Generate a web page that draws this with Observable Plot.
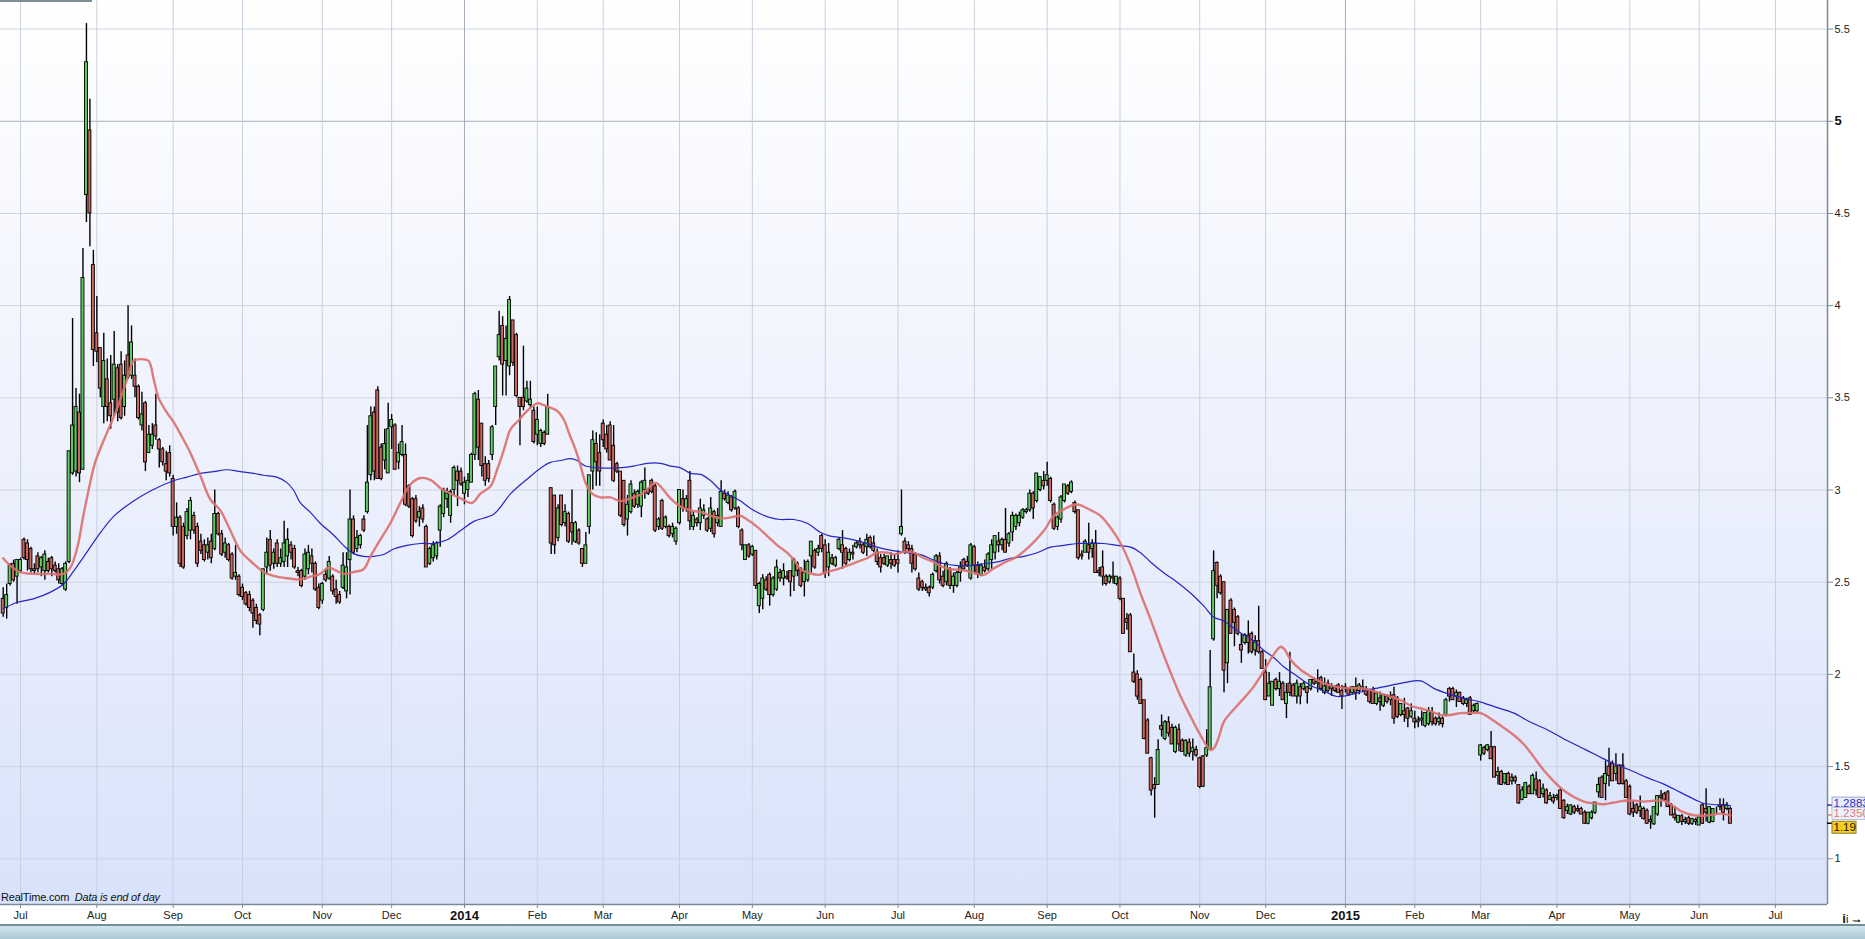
<!DOCTYPE html>
<html><head><meta charset="utf-8">
<script src="https://cdn.jsdelivr.net/npm/d3@7"></script>
<script src="https://cdn.jsdelivr.net/npm/@observablehq/plot@0.6"></script>
<style>
html,body{margin:0;padding:0;background:#fff;overflow:hidden;width:1865px;height:939px;}
#wrap{position:relative;width:1865px;height:939px;font-family:"Liberation Sans",Arial,sans-serif;}
#chart svg{display:block;}
.src{position:absolute;left:1px;top:891px;font-size:11px;color:#111;letter-spacing:-0.2px;}
.toolbar{position:absolute;left:0;top:924px;width:1865px;height:15px;background:linear-gradient(#d3e5ec,#aac8d3);border-top:2px solid #71909c;box-sizing:border-box;}
.tab{position:absolute;left:0;top:0;width:92px;height:2px;background:#7d8f92;}
</style></head><body>
<div id="wrap"><div id="chart"></div><div class="tab"></div><div class="src">RealTime.com&nbsp; <i>Data is end of day</i></div><div class="toolbar"></div></div>
<script>
// ---- axis labels: month tick labels (Jul 2013 .. Jul 2015) and trading days per month
const monthLabels = ["Jul","Aug","Sep","Oct","Nov","Dec","2014","Feb","Mar","Apr","May","Jun","Jul","Aug","Sep","Oct","Nov","Dec","2015","Feb","Mar","Apr","May","Jun","Jul"];
const tradingDays = [22,22,20,23,20,21,21,19,22,21,21,21,22,21,21,23,19,23,20,19,22,21,20,22];
const leadDays = 5; // trading days of June 2013 shown before the first tick
const yTicks = [1,1.5,2,2.5,3,3.5,4,4.5,5,5.5];

// ---- daily bars [open, high, low, close]
const bars2013 = [
// Jun
[2.41,2.47,2.31,2.33],[2.36,2.49,2.30,2.43],[2.49,2.60,2.48,2.59],[2.60,2.62,2.50,2.51],[2.53,2.62,2.38,2.62],
// Jul
[2.56,2.63,2.55,2.62],[2.73,2.74,2.62,2.63],[2.71,2.73,2.56,2.62],[2.68,2.69,2.55,2.57],[2.57,2.60,2.54,2.56],
[2.64,2.66,2.55,2.57],[2.58,2.64,2.53,2.63],[2.56,2.67,2.51,2.65],[2.61,2.63,2.55,2.56],[2.63,2.64,2.53,2.57],
[2.59,2.61,2.55,2.56],[2.57,2.60,2.49,2.51],[2.49,2.58,2.48,2.57],[2.46,2.61,2.45,2.60],[2.61,3.21,2.60,3.21],
[3.09,3.93,3.08,3.35],[3.10,3.55,3.07,3.45],[3.42,3.52,3.04,3.09],[3.11,4.31,3.11,4.15],[4.60,5.53,4.45,5.32],
[4.95,5.12,4.32,4.50],[4.22,4.30,3.67,3.76],
// Aug
[3.85,4.05,3.69,3.75],[3.77,3.77,3.50,3.55],[3.45,3.85,3.36,3.70],[3.60,3.71,3.37,3.45],[3.47,3.73,3.33,3.40],
[3.49,3.86,3.40,3.68],[3.66,3.68,3.37,3.42],[3.68,3.75,3.38,3.39],[3.45,3.70,3.40,3.62],[3.73,4.00,3.60,3.61],
[3.62,3.89,3.60,3.80],[3.62,3.71,3.50,3.56],[3.56,3.57,3.38,3.39],[3.35,3.53,3.32,3.41],[3.47,3.48,3.10,3.15],
[3.20,3.35,3.20,3.30],[3.24,3.36,3.22,3.30],[3.35,3.52,3.27,3.29],[3.27,3.28,3.12,3.22],[3.22,3.23,3.13,3.15],
[3.14,3.21,3.05,3.10],[3.20,3.24,3.07,3.09],
// Sep
[3.06,3.08,2.75,2.80],[2.80,2.93,2.76,2.85],[2.85,2.86,2.58,2.60],[2.80,2.82,2.57,2.58],[2.75,2.90,2.73,2.88],
[2.78,2.96,2.73,2.94],[2.86,2.88,2.76,2.78],[2.80,2.82,2.58,2.60],[2.72,2.76,2.65,2.67],[2.70,2.73,2.61,2.62],
[2.66,2.74,2.62,2.70],[2.72,2.76,2.60,2.63],[2.68,3.00,2.67,2.87],[2.87,2.88,2.75,2.76],[2.76,2.78,2.64,2.65],
[2.66,2.74,2.63,2.71],[2.70,2.71,2.61,2.62],[2.65,2.66,2.51,2.52],[2.53,2.70,2.51,2.55],[2.53,2.54,2.42,2.43],
// Oct
[2.47,2.49,2.40,2.42],[2.44,2.45,2.37,2.38],[2.43,2.45,2.34,2.36],[2.40,2.41,2.25,2.33],[2.36,2.38,2.27,2.29],
[2.32,2.33,2.21,2.27],[2.35,2.57,2.34,2.57],[2.58,2.74,2.54,2.66],[2.73,2.78,2.56,2.59],[2.60,2.68,2.57,2.66],
[2.71,2.73,2.58,2.60],[2.60,2.68,2.58,2.63],[2.61,2.83,2.58,2.71],[2.64,2.79,2.58,2.73],[2.70,2.72,2.62,2.66],
[2.68,2.70,2.57,2.58],[2.56,2.58,2.53,2.55],[2.56,2.57,2.47,2.48],[2.53,2.68,2.51,2.65],[2.57,2.70,2.54,2.66],
[2.64,2.68,2.55,2.60],[2.60,2.61,2.45,2.46],[2.47,2.49,2.35,2.36],
// Nov
[2.40,2.50,2.38,2.49],[2.54,2.57,2.50,2.51],[2.52,2.64,2.51,2.61],[2.53,2.54,2.43,2.45],[2.46,2.51,2.38,2.42],
[2.43,2.45,2.38,2.39],[2.47,2.66,2.46,2.59],[2.45,2.66,2.41,2.58],[2.62,3.00,2.43,2.84],[2.84,2.86,2.65,2.66],
[2.68,2.78,2.66,2.74],[2.70,2.76,2.68,2.75],[2.84,2.86,2.77,2.78],[2.88,3.35,2.87,3.04],[3.08,3.45,3.05,3.40],
[3.42,3.45,3.05,3.10],[3.54,3.56,3.06,3.06],[3.23,3.25,3.05,3.06],[3.16,3.33,3.11,3.25],[3.09,3.47,3.09,3.33],
// Dec
[3.34,3.41,3.22,3.38],[3.35,3.36,3.11,3.11],[3.15,3.25,3.11,3.20],[3.19,3.35,3.18,3.26],[3.19,3.25,2.91,2.92],
[3.02,3.03,2.90,2.91],[2.95,2.96,2.74,2.75],[2.95,2.97,2.82,2.83],[2.85,2.91,2.80,2.88],[2.90,2.92,2.82,2.84],
[2.80,2.81,2.58,2.58],[2.60,2.69,2.59,2.68],[2.63,2.72,2.61,2.70],[2.64,2.72,2.62,2.71],[2.78,2.92,2.69,2.91],
[2.87,3.01,2.85,3.00],[2.95,3.01,2.90,2.98],[2.86,3.00,2.82,2.99],[3.00,3.13,2.97,3.12],[3.10,3.13,2.91,3.05],
[3.10,3.12,3.02,3.03]
];
const bars2014 = [
// Jan
[2.98,3.07,2.92,3.04],[3.00,3.09,2.96,3.05],[3.04,3.20,3.04,3.19],[3.19,3.53,3.16,3.52],[3.49,3.54,3.16,3.23],
[3.36,3.36,3.07,3.13],[3.14,3.18,3.02,3.05],[3.14,3.16,3.04,3.06],[3.19,3.35,3.16,3.34],[3.45,3.67,3.35,3.67],
[3.72,3.97,3.70,3.84],[3.89,3.94,3.51,3.68],[3.70,3.89,3.51,3.82],[3.67,4.05,3.62,4.03],[3.92,3.92,3.67,3.69],
[3.84,3.85,3.50,3.51],[3.50,3.50,3.24,3.45],[3.50,3.78,3.43,3.45],[3.48,3.59,3.47,3.55],[3.46,3.59,3.44,3.49],
[3.43,3.45,3.25,3.26],
// Feb
[3.30,3.45,3.24,3.38],[3.25,3.33,3.23,3.32],[3.31,3.32,3.24,3.25],[3.30,3.52,3.30,3.45],[3.01,3.01,2.65,2.71],
[2.97,2.97,2.65,2.70],[2.74,2.92,2.72,2.90],[2.97,2.97,2.80,2.81],[2.82,2.92,2.80,2.88],[2.87,2.88,2.71,2.72],
[2.82,3.00,2.70,2.77],[2.72,2.83,2.71,2.82],[2.78,2.79,2.70,2.71],[2.68,2.68,2.58,2.60],[2.60,2.77,2.60,2.70],
[2.80,3.08,2.76,3.08],[3.10,3.32,3.00,3.27],[3.25,3.31,3.02,3.15],[3.20,3.30,3.02,3.10],
// Mar
[3.36,3.38,3.23,3.27],[3.30,3.35,3.20,3.22],[3.35,3.37,3.16,3.16],[3.24,3.35,3.04,3.05],[3.14,3.15,3.09,3.10],
[3.10,3.10,2.85,2.86],[3.05,3.05,2.80,2.81],[2.84,2.97,2.75,2.92],[2.88,3.05,2.87,3.03],[2.98,3.00,2.90,2.91],
[2.92,3.00,2.90,2.99],[2.91,3.05,2.85,3.04],[3.00,3.12,2.95,3.05],[3.00,3.01,2.97,2.98],[3.05,3.06,2.98,2.99],
[3.02,3.03,2.77,2.78],[2.80,2.85,2.78,2.84],[2.94,2.95,2.78,2.79],[2.80,2.86,2.79,2.85],[2.80,2.81,2.74,2.75],
[2.76,2.82,2.74,2.80],[2.72,2.80,2.70,2.79],
// Apr
[2.82,3.00,2.81,3.00],[2.95,3.00,2.88,2.90],[2.90,2.97,2.88,2.95],[3.05,3.10,2.78,2.83],[2.80,2.88,2.78,2.86],
[2.84,2.85,2.80,2.82],[2.82,2.95,2.78,2.90],[2.86,2.92,2.84,2.89],[2.84,2.85,2.77,2.78],[2.79,2.96,2.77,2.90],
[2.88,2.89,2.74,2.76],[2.82,2.90,2.80,2.86],[2.80,3.05,2.80,2.99],[2.98,3.00,2.94,2.95],[2.93,2.99,2.92,2.97],
[2.96,2.97,2.88,2.89],[2.90,3.00,2.89,2.99],[2.90,2.91,2.79,2.80],[2.78,2.79,2.67,2.70],[2.62,2.70,2.62,2.70],
[2.70,2.71,2.63,2.64],
// May
[2.65,2.70,2.64,2.69],[2.67,2.67,2.46,2.48],[2.37,2.50,2.33,2.49],[2.41,2.54,2.35,2.52],[2.51,2.53,2.45,2.46],
[2.54,2.55,2.37,2.43],[2.43,2.53,2.42,2.52],[2.46,2.62,2.45,2.58],[2.55,2.57,2.50,2.52],[2.52,2.60,2.48,2.56],
[2.53,2.56,2.51,2.52],[2.56,2.56,2.42,2.50],[2.53,2.63,2.45,2.62],[2.60,2.61,2.53,2.56],[2.57,2.58,2.47,2.48],
[2.50,2.62,2.42,2.55],[2.51,2.62,2.50,2.61],[2.64,2.72,2.55,2.72],[2.67,2.68,2.57,2.58],[2.66,2.70,2.64,2.68],
[2.75,2.76,2.66,2.68],
// Jun
[2.70,2.73,2.52,2.55],[2.58,2.71,2.53,2.66],[2.63,2.65,2.59,2.60],[2.59,2.64,2.58,2.63],[2.68,2.74,2.67,2.73],
[2.70,2.78,2.57,2.66],[2.68,2.69,2.59,2.60],[2.62,2.68,2.61,2.66],[2.66,2.70,2.62,2.65],[2.69,2.72,2.68,2.71],
[2.72,2.74,2.68,2.70],[2.70,2.71,2.65,2.66],[2.69,2.76,2.64,2.73],[2.74,2.75,2.68,2.69],[2.71,2.75,2.66,2.67],
[2.66,2.68,2.59,2.61],[2.63,2.65,2.55,2.58],[2.63,2.65,2.59,2.60],[2.59,2.64,2.58,2.64],[2.62,2.66,2.57,2.60],
[2.62,2.65,2.58,2.59],
// Jul
[2.62,2.67,2.55,2.60],[2.76,3.00,2.75,2.80],[2.72,2.74,2.65,2.66],[2.70,2.72,2.66,2.68],[2.68,2.70,2.55,2.60],
[2.65,2.66,2.56,2.57],[2.52,2.55,2.45,2.46],[2.50,2.51,2.45,2.47],[2.47,2.49,2.45,2.46],[2.47,2.48,2.42,2.44],
[2.47,2.55,2.46,2.54],[2.56,2.65,2.55,2.64],[2.64,2.66,2.49,2.51],[2.53,2.56,2.47,2.48],[2.50,2.61,2.48,2.60],
[2.57,2.58,2.46,2.48],[2.48,2.55,2.44,2.53],[2.48,2.56,2.47,2.55],[2.55,2.61,2.50,2.58],[2.62,2.63,2.56,2.57],
[2.61,2.64,2.58,2.59],[2.52,2.71,2.51,2.70],
// Aug
[2.69,2.70,2.55,2.59],[2.59,2.61,2.52,2.54],[2.54,2.60,2.53,2.59],[2.58,2.62,2.55,2.56],[2.57,2.66,2.56,2.65],
[2.62,2.73,2.57,2.70],[2.66,2.75,2.62,2.75],[2.72,2.77,2.66,2.70],[2.70,2.74,2.67,2.73],[2.73,2.90,2.66,2.66],
[2.71,2.77,2.69,2.76],[2.77,2.88,2.72,2.86],[2.80,2.87,2.78,2.86],[2.82,2.88,2.80,2.86],[2.85,2.90,2.84,2.89],
[2.88,2.90,2.87,2.89],[2.89,3.00,2.88,2.98],[2.98,2.99,2.84,2.90],[2.94,3.09,2.93,3.09],[3.00,3.07,2.99,3.07],
[3.05,3.10,3.00,3.02],
// Sep
[3.05,3.15,3.02,3.08],[3.06,3.07,2.93,2.94],[2.92,2.93,2.78,2.79],[2.80,2.86,2.78,2.85],[2.84,2.97,2.82,2.96],
[2.94,3.03,2.93,3.03],[3.02,3.03,2.97,2.98],[2.99,3.05,2.98,3.04],[2.93,2.94,2.87,2.88],[2.89,2.89,2.62,2.63],
[2.65,2.67,2.62,2.64],[2.66,2.73,2.66,2.72],[2.70,2.82,2.62,2.66],[2.68,2.73,2.63,2.71],[2.71,2.78,2.55,2.55],
[2.56,2.58,2.53,2.55],[2.58,2.67,2.48,2.53],[2.53,2.54,2.48,2.49],[2.50,2.54,2.49,2.53],[2.53,2.61,2.49,2.52],
[2.49,2.53,2.48,2.53],
// Oct
[2.52,2.53,2.40,2.41],[2.41,2.41,2.22,2.22],[2.30,2.33,2.24,2.28],[2.32,2.33,2.12,2.12],[2.01,2.11,1.95,1.96],
[2.00,2.02,1.86,1.88],[1.97,1.98,1.84,1.84],[1.86,1.86,1.645,1.65],[1.75,1.76,1.57,1.57],[1.545,1.55,1.34,1.37],
[1.40,1.44,1.22,1.38],[1.40,1.645,1.40,1.59],[1.72,1.78,1.66,1.70],[1.65,1.75,1.64,1.74],[1.74,1.77,1.66,1.68],
[1.71,1.73,1.62,1.62],[1.58,1.72,1.57,1.71],[1.70,1.73,1.58,1.62],[1.64,1.65,1.58,1.58],[1.56,1.645,1.55,1.64],
[1.63,1.65,1.55,1.57],[1.58,1.65,1.53,1.60],[1.59,1.61,1.55,1.56],
// Nov
[1.545,1.55,1.38,1.39],[1.555,1.56,1.39,1.39],[1.56,1.70,1.55,1.60],[1.59,2.13,1.59,1.93],[2.19,2.67,2.18,2.56],
[2.605,2.61,2.41,2.48],[2.53,2.54,2.43,2.44],[2.50,2.50,1.90,2.02],[2.06,2.35,1.95,2.35],[2.40,2.41,2.22,2.22],
[2.35,2.36,2.15,2.28],[2.31,2.32,2.21,2.22],[2.16,2.22,2.06,2.13],[2.17,2.22,2.16,2.21],[2.21,2.29,2.11,2.17],
[2.22,2.23,2.11,2.12],[2.13,2.21,2.10,2.18],[2.18,2.37,2.11,2.12],[2.12,2.13,2.03,2.03],
// Dec
[2.01,2.08,1.86,1.86],[1.88,2.01,1.88,1.95],[1.83,1.96,1.83,1.96],[1.97,1.98,1.91,1.92],[1.92,2.01,1.88,1.96],
[1.95,1.96,1.86,1.86],[1.84,1.95,1.76,1.90],[1.95,2.12,1.88,1.90],[1.94,1.95,1.88,1.88],[1.88,1.97,1.84,1.95],
[1.93,1.95,1.835,1.88],[1.92,1.96,1.91,1.95],[1.93,1.935,1.84,1.90],[1.92,1.97,1.91,1.97],[1.97,1.98,1.94,1.95],
[1.95,2.025,1.90,1.96],[1.98,1.99,1.91,1.92],[1.90,1.98,1.89,1.935],[1.95,1.97,1.90,1.91],[1.92,1.95,1.88,1.93],
[1.93,1.94,1.90,1.91],[1.94,1.95,1.90,1.90],[1.91,1.94,1.81,1.88]
];
const bars2015 = [
// Jan
[1.93,1.95,1.90,1.92],[1.92,1.925,1.88,1.89],[1.90,1.935,1.89,1.93],[1.93,1.98,1.86,1.90],[1.91,1.95,1.89,1.94],
[1.93,1.97,1.90,1.92],[1.92,1.935,1.88,1.89],[1.91,1.92,1.84,1.85],[1.915,1.93,1.84,1.84],[1.84,1.90,1.83,1.896],
[1.87,1.905,1.80,1.85],[1.83,1.89,1.82,1.887],[1.88,1.89,1.84,1.85],[1.86,1.905,1.83,1.88],[1.887,1.93,1.73,1.76],
[1.87,1.88,1.76,1.77],[1.78,1.84,1.77,1.84],[1.80,1.87,1.74,1.78],[1.815,1.82,1.71,1.76],[1.77,1.84,1.76,1.80],
// Feb
[1.76,1.80,1.705,1.74],[1.74,1.77,1.71,1.75],[1.75,1.80,1.72,1.76],[1.72,1.79,1.71,1.79],[1.73,1.82,1.72,1.80],
[1.79,1.82,1.72,1.74],[1.76,1.77,1.72,1.73],[1.74,1.79,1.72,1.76],[1.76,1.77,1.71,1.73],[1.78,1.87,1.77,1.86],
[1.92,1.93,1.85,1.88],[1.92,1.93,1.86,1.86],[1.88,1.915,1.82,1.90],[1.90,1.905,1.85,1.85],[1.87,1.88,1.83,1.84],
[1.84,1.87,1.82,1.86],[1.87,1.88,1.78,1.78],[1.80,1.84,1.79,1.83],[1.80,1.845,1.79,1.84],
// Mar
[1.56,1.62,1.53,1.615],[1.60,1.61,1.56,1.57],[1.59,1.62,1.58,1.615],[1.605,1.69,1.54,1.54],[1.605,1.61,1.44,1.44],
[1.45,1.496,1.40,1.47],[1.47,1.48,1.40,1.40],[1.41,1.46,1.40,1.46],[1.46,1.47,1.40,1.40],[1.42,1.46,1.40,1.44],
[1.44,1.45,1.405,1.42],[1.40,1.40,1.296,1.30],[1.32,1.39,1.315,1.37],[1.33,1.415,1.33,1.41],[1.39,1.40,1.35,1.35],
[1.35,1.46,1.35,1.45],[1.43,1.47,1.34,1.37],[1.42,1.43,1.33,1.33],[1.35,1.405,1.33,1.38],[1.37,1.38,1.296,1.30],
[1.32,1.36,1.315,1.34],[1.33,1.35,1.296,1.31],
// Apr
[1.33,1.35,1.315,1.34],[1.37,1.38,1.27,1.27],[1.315,1.32,1.215,1.22],[1.26,1.296,1.24,1.28],[1.24,1.29,1.235,1.29],
[1.28,1.29,1.24,1.25],[1.27,1.29,1.25,1.26],[1.27,1.28,1.24,1.24],[1.25,1.26,1.187,1.19],[1.19,1.25,1.185,1.25],
[1.22,1.26,1.21,1.25],[1.25,1.305,1.24,1.305],[1.36,1.44,1.33,1.40],[1.44,1.45,1.33,1.33],[1.405,1.53,1.315,1.46],
[1.50,1.60,1.39,1.45],[1.515,1.53,1.42,1.42],[1.46,1.57,1.42,1.50],[1.505,1.51,1.40,1.405],[1.505,1.57,1.40,1.405],
[1.42,1.43,1.33,1.33],
// May
[1.39,1.40,1.233,1.24],[1.27,1.315,1.224,1.25],[1.29,1.30,1.24,1.25],[1.26,1.34,1.224,1.28],[1.27,1.28,1.21,1.215],
[1.26,1.27,1.187,1.19],[1.21,1.233,1.16,1.20],[1.187,1.28,1.18,1.28],[1.24,1.34,1.23,1.34],[1.34,1.37,1.28,1.33],
[1.35,1.36,1.31,1.32],[1.36,1.37,1.28,1.28],[1.29,1.30,1.233,1.235],[1.24,1.28,1.205,1.22],[1.196,1.235,1.19,1.233],
[1.23,1.24,1.18,1.20],[1.20,1.225,1.187,1.21],[1.22,1.23,1.18,1.19],[1.19,1.22,1.18,1.215],[1.21,1.22,1.18,1.20],
// Jun
[1.18,1.224,1.18,1.224],[1.29,1.30,1.187,1.19],[1.27,1.38,1.20,1.25],[1.196,1.28,1.19,1.28],[1.20,1.27,1.196,1.27],
[1.26,1.28,1.24,1.26],[1.28,1.325,1.26,1.29],[1.29,1.325,1.205,1.25],[1.27,1.305,1.26,1.29],[1.27,1.28,1.19,1.19]
];

// ---- moving averages: [trading day, value]
const maShort = [
[0,2.63],[2,2.59],[4.9,2.555],[8.7,2.545],[13.5,2.545],[17.4,2.545],[19.4,2.58],[21.4,2.69],[23.2,2.87],[25.2,3.05],[26.5,3.15],
[29.9,3.31],[32.8,3.44],[35.7,3.60],[37.6,3.70],[39.5,3.71],[41.9,3.70],[43.4,3.60],[44.8,3.50],[47.2,3.42],[49.1,3.37],
[51.5,3.29],[54,3.20],[56.8,3.08],[59.7,2.95],[62.6,2.89],[65.5,2.78],[68.4,2.67],[72.2,2.60],[75.1,2.555],[78.9,2.53],
[82.8,2.52],[85.7,2.515],[88.5,2.53],[91.4,2.545],[93.8,2.58],[95.3,2.57],[98.1,2.545],[101,2.555],[103.9,2.57],[105.9,2.64],
[108.7,2.73],[111.6,2.82],[114.5,2.93],[117.4,3.03],[120.3,3.065],[123.2,3.055],[126.1,3.01],[129,2.98],[131.9,2.955],[135.2,2.93],
[137.6,2.98],[140.5,3.02],[142.4,3.11],[144.4,3.22],[146.3,3.33],[148.7,3.38],[151.1,3.43],[154,3.47],[155.9,3.46],[157.3,3.45],
[159.7,3.43],[161.7,3.38],[163.1,3.31],[165,3.22],[166.5,3.13],[167.9,3.04],[169.8,2.98],[172.2,2.96],[175.1,2.96],[178,2.94],
[180.9,2.955],[184.2,2.98],[186.6,3.02],[188.1,3.04],[189.5,3.02],[192.4,2.955],[195.3,2.91],[198.2,2.89],[201.1,2.88],[204.9,2.855],
[207.8,2.846],[210.7,2.855],[212.6,2.86],[214.5,2.84],[217.4,2.80],[220.3,2.75],[223.2,2.70],[226,2.66],[228,2.62],[229.9,2.57],
[232.3,2.55],[235.2,2.54],[237.6,2.556],[240.5,2.57],[243.4,2.59],[246.2,2.61],[249.1,2.63],[252,2.66],[254.9,2.66],[256.8,2.65],
[259.7,2.665],[262.6,2.66],[265.5,2.63],[268.3,2.61],[270.3,2.587],[273.2,2.57],[277,2.565],[279.9,2.55],[282.8,2.54],[285.2,2.57],
[288.5,2.605],[292.4,2.64],[296.2,2.70],[300.1,2.78],[302.9,2.86],[305.8,2.895],[308.7,2.92],[310.2,2.92],[312.6,2.90],[316.4,2.86],
[319.3,2.795],[322.2,2.71],[325.1,2.59],[327.9,2.44],[330.8,2.30],[333.7,2.15],[336.6,2.01],[339.5,1.88],[342.4,1.77],[345.2,1.67],
[348.1,1.59],[349.1,1.60],[350.5,1.66],[352,1.745],[354.8,1.81],[357.7,1.87],[360.6,1.935],[363.5,2.02],[366.4,2.11],[368.3,2.15],
[369.3,2.14],[371.2,2.08],[374.1,2.025],[376.9,1.99],[379.8,1.96],[382.7,1.94],[386.6,1.926],[390.4,1.926],[394.3,1.915],[397.2,1.896],
[400,1.88],[402.9,1.86],[405.8,1.83],[408.7,1.815],[411.6,1.80],[414.4,1.78],[417.3,1.78],[420.2,1.79],[423.1,1.79],[426,1.79],
[428.9,1.76],[432.7,1.71],[435.6,1.67],[438.5,1.62],[441.4,1.55],[444.2,1.48],[447.1,1.42],[450,1.37],[452.9,1.335],[455.8,1.31],
[458.7,1.30],[461.5,1.296],[464.4,1.305],[467.3,1.315],[470.2,1.315],[473.1,1.31],[476,1.315],[478.8,1.315],[480.8,1.296],[483.6,1.26],
[486.5,1.24],[489.4,1.233],[492.3,1.238],[495.2,1.245],[498,1.235]
];
const maLong = [
[0,2.356],[3.9,2.39],[8.7,2.41],[13.5,2.445],[17.4,2.49],[20.3,2.56],[23.1,2.635],[28.1,2.77],[32,2.86],[37.6,2.94],[43,3.0],
[49.1,3.05],[53,3.07],[56.8,3.09],[60.7,3.10],[64.5,3.11],[68.4,3.10],[72.2,3.09],[75.1,3.08],[78.9,3.07],[81.8,3.04],[83.7,3.0],
[85.7,2.93],[88.5,2.88],[91.4,2.82],[95.3,2.755],[98.1,2.70],[101,2.655],[103.9,2.64],[106.8,2.64],[109.7,2.65],[112.6,2.68],
[116.4,2.70],[120.3,2.71],[124.1,2.71],[128,2.73],[131.9,2.78],[135.7,2.83],[141.5,2.87],[146.3,2.98],[151.1,3.06],[155,3.12],
[157.8,3.15],[160.7,3.16],[163.6,3.17],[165.5,3.16],[167.9,3.13],[172.2,3.12],[177,3.12],[181.8,3.13],[185.7,3.145],[189.5,3.145],
[192.4,3.13],[195.3,3.12],[198.2,3.09],[201.1,3.085],[204,3.05],[206.8,3.0],[209.7,2.97],[212.6,2.94],[215.5,2.90],[218.4,2.87],
[221.2,2.85],[224.1,2.84],[228,2.84],[231.8,2.82],[235.7,2.77],[238.5,2.75],[242.4,2.74],[247.2,2.72],[252,2.69],[256.8,2.67],
[260.6,2.66],[264.5,2.65],[268.3,2.62],[271.2,2.60],[275.1,2.59],[278.9,2.59],[282.8,2.60],[286.6,2.61],[290.5,2.63],[294.3,2.64],
[298.1,2.66],[302,2.69],[305.8,2.70],[309.7,2.71],[313.5,2.71],[317.4,2.71],[321.2,2.70],[325.1,2.69],[327.9,2.66],[330.8,2.61],
[334.7,2.55],[338.5,2.50],[342.4,2.44],[346.2,2.37],[349.1,2.31],[352,2.29],[354.8,2.25],[357.7,2.215],[360.6,2.18],[363.5,2.13],
[366.4,2.09],[369.3,2.04],[373.1,1.99],[377,1.94],[380.8,1.91],[384.6,1.88],[388.5,1.89],[392.3,1.91],[396.2,1.926],[400,1.94],
[403.9,1.955],[408.7,1.965],[412.5,1.924],[416.4,1.896],[421.2,1.87],[426,1.85],[430.8,1.82],[435.6,1.79],[440.4,1.74],[445.2,1.70],
[450,1.65],[454.8,1.605],[459.6,1.56],[464.4,1.515],[469.2,1.48],[474,1.44],[478.8,1.405],[483.6,1.36],[488.4,1.315],[490.4,1.30],
[494.2,1.293],[498,1.2883]
];
const lastValues = {maLong: 1.2883, maShort: 1.2350, close: 1.19};

// ---- build
const bars = [...bars2013, ...bars2014, ...bars2015].map((d, i) => ({i, o: d[0], h: d[1], l: d[2], c: d[3]}));
const ticks = [];
{ let s = leadDays; monthLabels.forEach((lab, k) => { ticks.push({i: s, label: lab, year: /^\d{4}$/.test(lab)}); s += (tradingDays[k] || 0); }); }

const W = 1865, H = 925, MR = 38, MB = 21;
const xDom = [-0.78, 526.0], yDom = [0.752, 5.655];
const FONT = "'Liberation Sans', Arial, sans-serif";

function background(index, scales, values, dim) {
  const g = d3.create("svg:g");
  const lg = g.append("defs").append("linearGradient").attr("id", "bgGrad").attr("x1", 0).attr("y1", 0).attr("x2", 0).attr("y2", 1);
  lg.append("stop").attr("offset", "0%").attr("stop-color", "#ffffff");
  lg.append("stop").attr("offset", "55%").attr("stop-color", "#ecf0fd");
  lg.append("stop").attr("offset", "100%").attr("stop-color", "#d8e2fa");
  g.append("rect").attr("x", dim.marginLeft).attr("y", dim.marginTop)
    .attr("width", dim.width - dim.marginLeft - dim.marginRight)
    .attr("height", dim.height - dim.marginTop - dim.marginBottom)
    .attr("fill", "url(#bgGrad)");
  return g.node();
}

function valueBoxes(index, scales, values, dim) {
  const g = d3.create("svg:g").attr("font-family", FONT).attr("font-size", 11.5).attr("text-anchor", "start");
  const x0 = dim.width - dim.marginRight;
  const items = [
    {v: lastValues.maLong, dy: -2, text: "1.2883", color: "#2b2bd0", tick: "#2b2bd0", bg: "#e9effc", border: "#9aa9c4", w: 33},
    {v: lastValues.maShort, dy: -1.5, text: "1.2350", color: "#e07a7a", tick: "#e07a7a", bg: "#eef2fc", border: "#b8c2d6", w: 33},
    {v: lastValues.close, dy: 4, text: "1.19", color: "#111", tick: "#000", bg: "#f5cf1f", border: "#8a7a30", w: 24}
  ];
  items.forEach(it => {
    const y = scales.y(it.v);
    g.append("line").attr("x1", x0).attr("x2", x0 + 5).attr("y1", y).attr("y2", y).attr("stroke", it.tick).attr("stroke-width", 1.5);
  });
  items.forEach(it => {
    const y = scales.y(it.v) + it.dy;
    g.append("rect").attr("x", x0 + 5).attr("y", y - 6).attr("width", it.w).attr("height", 12).attr("fill", it.bg).attr("stroke", it.border).attr("stroke-width", 1);
    g.append("text").attr("x", x0 + 6.5).attr("y", y + 4).attr("fill", it.color).attr("text-anchor", "start").text(it.text);
  });
  return g.node();
}

const green = "#5fcd5f", red = "#c9665f";
const chart = Plot.plot({
  width: W, height: H,
  marginLeft: 0, marginRight: MR, marginTop: 0, marginBottom: MB,
  x: {type: "linear", domain: xDom, axis: null},
  y: {type: "linear", domain: yDom, axis: null},
  style: {fontFamily: FONT, background: "#fff", overflow: "visible"},
  marks: [
    background,
    Plot.ruleY(yTicks, {y: d => d, stroke: d => d === 5 ? "#a6acb6" : "#cdd3df", strokeWidth: 1}),
    Plot.ruleX(ticks, {x: "i", stroke: d => d.year ? "#a3abbb" : "#c9d0dd", strokeWidth: 1}),
    Plot.ruleX(bars, {x: "i", y1: "l", y2: "h", stroke: "#000", strokeWidth: 1.4}),
    Plot.rect(bars, {x1: d => d.i - 0.43, x2: d => d.i + 0.43, y1: "o", y2: "c", fill: d => d.c >= d.o ? green : red, stroke: "#000", strokeWidth: 0.9}),
    Plot.line(maLong, {x: d => d[0], y: d => d[1], stroke: "#2626c4", strokeWidth: 1.2, curve: "catmull-rom"}),
    Plot.line(maShort, {x: d => d[0], y: d => d[1], stroke: "#dc6f6c", strokeOpacity: 0.9, strokeWidth: 2.4, curve: "catmull-rom"}),
    // frame: right and bottom edges
    Plot.ruleX([xDom[1]], {stroke: "#7c8a98", strokeWidth: 1.5}),
    Plot.ruleY([yDom[0]], {stroke: "#7c8a98", strokeWidth: 1.5}),
    // x axis
    Plot.axisX(ticks.filter(d => !d.year).map(d => d.i), {tickFormat: d => ticks.find(t => t.i === d).label, tickSize: 4, tickPadding: 3, fontSize: 11, stroke: "#7c8a98", fill: "#222", anchor: "bottom"}),
    Plot.axisX(ticks.filter(d => d.year).map(d => d.i), {tickFormat: d => ticks.find(t => t.i === d).label, tickSize: 4, tickPadding: 2, fontSize: 13, fontWeight: "bold", stroke: "#7c8a98", fill: "#111", anchor: "bottom"}),
    // y axis on the right
    Plot.axisY(yTicks.filter(v => v !== 5), {anchor: "right", tickSize: 5, tickPadding: 2, fontSize: 11, stroke: "#7c8a98", fill: "#222", tickFormat: d => String(d)}),
    Plot.axisY([5], {anchor: "right", tickSize: 5, tickPadding: 2, fontSize: 13, fontWeight: "bold", stroke: "#7c8a98", fill: "#111", tickFormat: d => String(d)}),
    valueBoxes
  ]
});
document.getElementById("chart").appendChild(chart);
</script>
</body></html>
